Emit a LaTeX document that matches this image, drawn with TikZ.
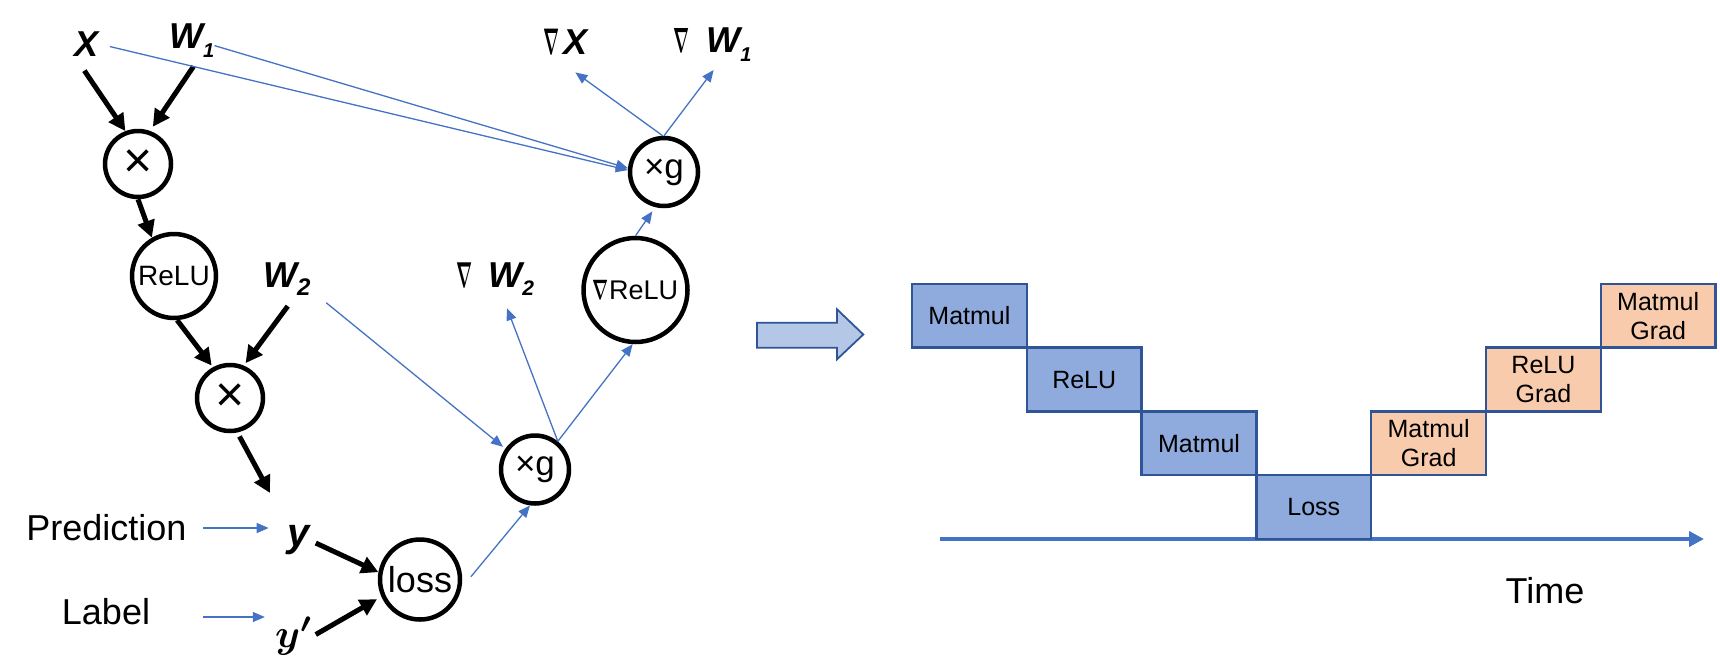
\documentclass[tikz,border=0pt]{standalone}
\usepackage{fontspec}
\setmainfont{Liberation Sans}
\usepackage{graphicx}
\usetikzlibrary{arrows.meta,calc}
\definecolor{lblue}{HTML}{4472C4}
\definecolor{dblue}{HTML}{2F5597}
\definecolor{bfill}{HTML}{8FAADC}
\definecolor{ofill}{HTML}{F8CBAD}
\definecolor{afill}{HTML}{B4C7E7}
\newcommand\fsz[1]{\fontsize{#1}{#1}\selectfont}
\newcommand\nabg[2]{{\fontsize{10}{10}\selectfont\boldmath\scalebox{#1}[#2]{$\nabla$}}}
\tikzset{
  circ/.style={circle, draw=black, line width=4.5pt, inner sep=0pt},
  blk/.style={draw=black, line width=5pt, -{Triangle[length=17pt,width=17pt]}},
  blu/.style={draw=lblue, line width=1.3pt, -{Triangle[length=12pt,width=10pt]}},
  lab/.style={inner sep=0pt},
  bigit/.style={inner sep=0pt, font=\fsz{36}\bfseries\itshape},
  tbox/.style={draw=dblue, line width=2.5pt, minimum width=114.8pt, minimum height=63.7pt,
    inner sep=0pt, align=center, font=\fontsize{25}{29}\selectfont},
  fwd/.style={tbox, fill=bfill},
  bwd/.style={tbox, fill=ofill},
}
\begin{document}
\begin{tikzpicture}[x=1pt, y=-1pt]
\useasboundingbox (0,0) rectangle (1720,667);

% ---------- left graph: labels ----------
\node[bigit] (X) at (87,44) {X};
\node[bigit, anchor=base west] (W1) at (169,48) {W\raisebox{-9pt}{\fsz{20}1}};
\node[bigit, anchor=base west] (W2) at (263,287) {W\raisebox{-8pt}{\fsz{24}2}};
\node[bigit, anchor=base west] (gX) at (543,54) {\nabg{1.68}{3.7}\hspace{4pt}X};
\node[bigit, anchor=base west] (gW1) at (673,52) {\nabg{1.68}{3.5}\hspace{17pt}W\raisebox{-9pt}{\fsz{20}1}};
\node[bigit, anchor=base west] (gW2) at (456,287) {\nabg{1.68}{3.6}\hspace{16pt}W\raisebox{-8pt}{\fsz{21}2}};
\node[lab, font=\fsz{40}\bfseries\itshape] (y) at (299,540.5) {y};
\node[lab] (yp) at (294,636) {\scalebox{4}{\boldmath$y'$}};
\node[lab, font=\fsz{36}] (pred) at (106.5,528) {Prediction};
\node[lab, font=\fsz{36}] (label) at (106,612) {Label};

% ---------- left graph: operation circles ----------
\node[circ, minimum size=66pt, font=\fsz{50}] (m1) at (138,164) {×};
\node[circ, minimum size=84pt, font=\fsz{28}] (relu) at (174,276) {ReLU};
\node[circ, minimum size=66pt, font=\fsz{50}] (m2) at (230,398) {×};
\node[circ, minimum size=80pt, font=\fsz{36}] (loss) at (420,579.5) {loss};
\node[circ, minimum size=68pt, font=\fsz{35}] (xgL) at (535,469.5) {×g};
\node[circ, minimum size=104pt, font=\fsz{27}] (nrelu) at (635.5,290) {\nabg{1.68}{2.8}ReLU};
\node[circ, minimum size=68pt, font=\fsz{35}] (xgT) at (664,172) {×g};

% ---------- forward (black) connectors ----------
\draw[blk, shorten <=17pt] (X.south west) -- (m1.111);
\draw[blk, shorten <=11pt, shorten >=5pt] (W1.-65) -- (m1.70);
\draw[blk] (m1.south) -- (relu.120);
\draw[blk, shorten >=2pt] (relu.-86) -- (m2.119);
\draw[blk, shorten <=13.6pt, shorten >=3pt] ([xshift=9pt]W2.south) -- (m2.67);
\draw[blk, shorten <=4.5pt, shorten >=37pt] (m2.-78) -- (y.north west);
\draw[blk, shorten <=6pt] (y.east) -- (loss.170);
\draw[blk, shorten <=3pt, shorten >=5pt] (yp.east) -- (loss.204);

% ---------- backward (blue) connectors ----------
\draw[blu, shorten <=11pt] (X.east) -- (xgT.177);
\draw[blu] ([yshift=-5.5pt]W1.east) -- (xgT.174);
\draw[blu, shorten >=31pt] (xgT.92) -- ([xshift=-15pt]gX.south);
\draw[blu, shorten >=11pt] (xgT.90) -- ([xshift=8pt]gW1.south);
\draw[blu, shorten >=5pt] (nrelu.north) -- (xgT.256);
\draw[blu, shorten >=14pt] (xgL.51) -- ([xshift=7pt]gW2.south);
\draw[blu] (xgL.51) -- (nrelu.267);
\draw[blu, shorten <=20pt, shorten >=3pt] ([yshift=-11.5pt]W2.east) -- (xgL.145);
\draw[blu, shorten <=15pt] (loss.-12) -- (xgL.262);
\draw[blu, shorten <=16.5pt, shorten >=19pt] (pred.east) -- (pred.east -| y.west);
\draw[blu, shorten <=53pt, shorten >=10pt] ([yshift=-5pt]label.east) -- ([yshift=-5pt]label.east -| yp.west);

% ---------- block arrow ----------
\draw[draw=dblue, line width=1.8pt, fill=afill, line join=miter]
  (757,322.7) -- (837,322.7) -- (837,309.3) -- (863.3,334.5) -- (837,359.3) -- (837,347.7) -- (757,347.7) -- cycle;

% ---------- timeline ----------
\coordinate (t0) at (940,539);
\coordinate (t1) at (1704,539);
\draw[draw=lblue, line width=4.7pt, -{Triangle[length=15pt,width=15pt]}] (t0) -- (t1);
\node[lab, font=\fsz{36}] (time) at (1545,591) {Time};

% ---------- schedule boxes ----------
\node[fwd] (b1) at (969.4,315.85) {Matmul};
\node[fwd] (b2) at (1084.2,379.55) {ReLU};
\node[fwd] (b3) at (1199.0,443.25) {Matmul};
\node[fwd] (b4) at (1313.8,506.95) {Loss};
\node[bwd] (b5) at (1428.6,443.25) {Matmul\\Grad};
\node[bwd] (b6) at (1543.4,379.55) {ReLU\\Grad};
\node[bwd] (b7) at (1658.2,315.85) {Matmul\\Grad};
\end{tikzpicture}
\end{document}
